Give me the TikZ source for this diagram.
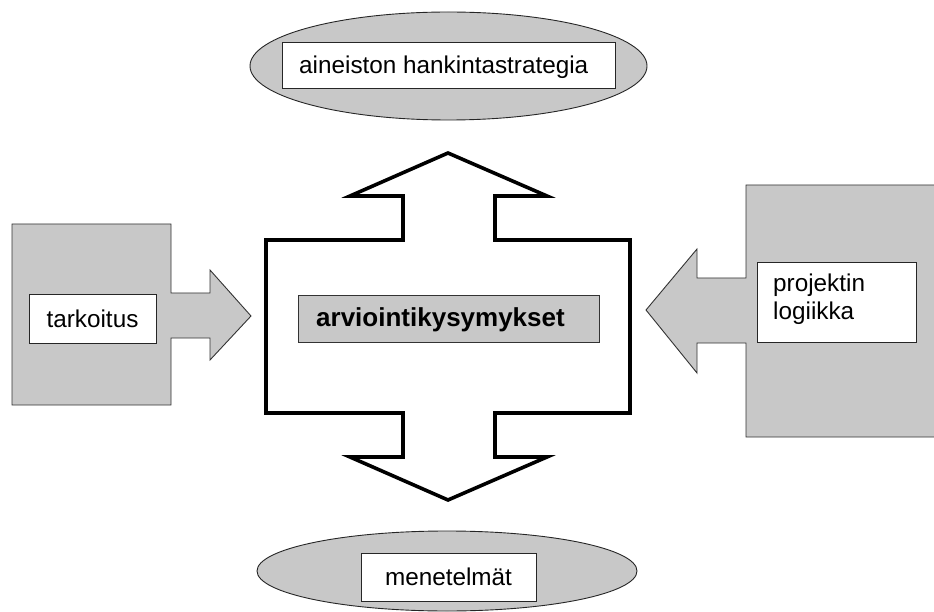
\documentclass[tikz,border=0pt]{standalone}
\usepackage{fontspec}
\setmainfont{Liberation Sans}
\usetikzlibrary{shapes.geometric}
\definecolor{boxgray}{RGB}{200,200,200}
\begin{document}
\begin{tikzpicture}[x=1pt,y=-1pt,
  graybg/.style={draw=black!80,line width=0.9pt,fill=boxgray,line join=miter},
  whitebox/.style={draw=black!85,line width=1pt,fill=white,inner sep=0pt},
  ovalshape/.style={ellipse,draw=black!85,line width=0.9pt,fill=boxgray,inner sep=0pt},
  txt/.style={font=\fontsize{24.3}{28}\selectfont},
  bigshape/.style={draw=black,line width=3.6pt,fill=white,line join=miter}]
\useasboundingbox (0,0) rectangle (934,612);
% top ellipse
\node[ovalshape,minimum width=397pt,minimum height=108pt] (topoval) at (448.5,66) {};
\node[whitebox,minimum width=333pt,minimum height=46pt] (topbox) at (448.5,66) {};
\node[txt,anchor=west,inner sep=0pt] (toptext) at (299,67) {aineiston hankintastrategia};
% bottom ellipse
\node[ovalshape,minimum width=380pt,minimum height=80pt] (botoval) at (447,571) {};
\node[whitebox,minimum width=175pt,minimum height=48pt,txt] (botbox) at (448.5,577) {menetelmät};
% left grey box with arrow
\draw[graybg] (12,224) -- (171,224) -- (171,293) -- (210,293) -- (210,270) -- (251,316)
  -- (210,360) -- (210,338) -- (171,338) -- (171,405) -- (12,405) -- cycle;
\node[whitebox,minimum width=127pt,minimum height=48pt,txt] (leftbox) at (92.5,319) {tarkoitus};
% right grey box with arrow
\draw[graybg] (950,185) -- (746,185) -- (746,278) -- (697,278) -- (697,249) -- (646,310)
  -- (697,373) -- (697,343) -- (746,343) -- (746,437) -- (950,437);
\node[whitebox,minimum width=159pt,minimum height=79pt] (rightbox) at (836.5,302.5) {};
\node[txt,anchor=north west,align=left,inner sep=0pt] (righttext) at (773,274) {projektin\\logiikka};
% central cross shape
\draw[bigshape] (266,240) -- (403,240) -- (403,196) -- (350,196) -- (448,153) -- (547,196)
  -- (495,196) -- (495,240) -- (630,240) -- (630,413) -- (495,413) -- (495,457) -- (547,457)
  -- (448,500) -- (350,457) -- (403,457) -- (403,413) -- (266,413) -- cycle;
\node[draw=black!80,line width=1pt,fill=boxgray,minimum width=301pt,minimum height=47pt,inner sep=0pt] (centerbox) at (448.5,319) {};
\node[font=\fontsize{26}{28}\selectfont\bfseries,anchor=west,inner sep=0pt] (centertext) at (316,320) {arviointikysymykset};
\end{tikzpicture}
\end{document}
